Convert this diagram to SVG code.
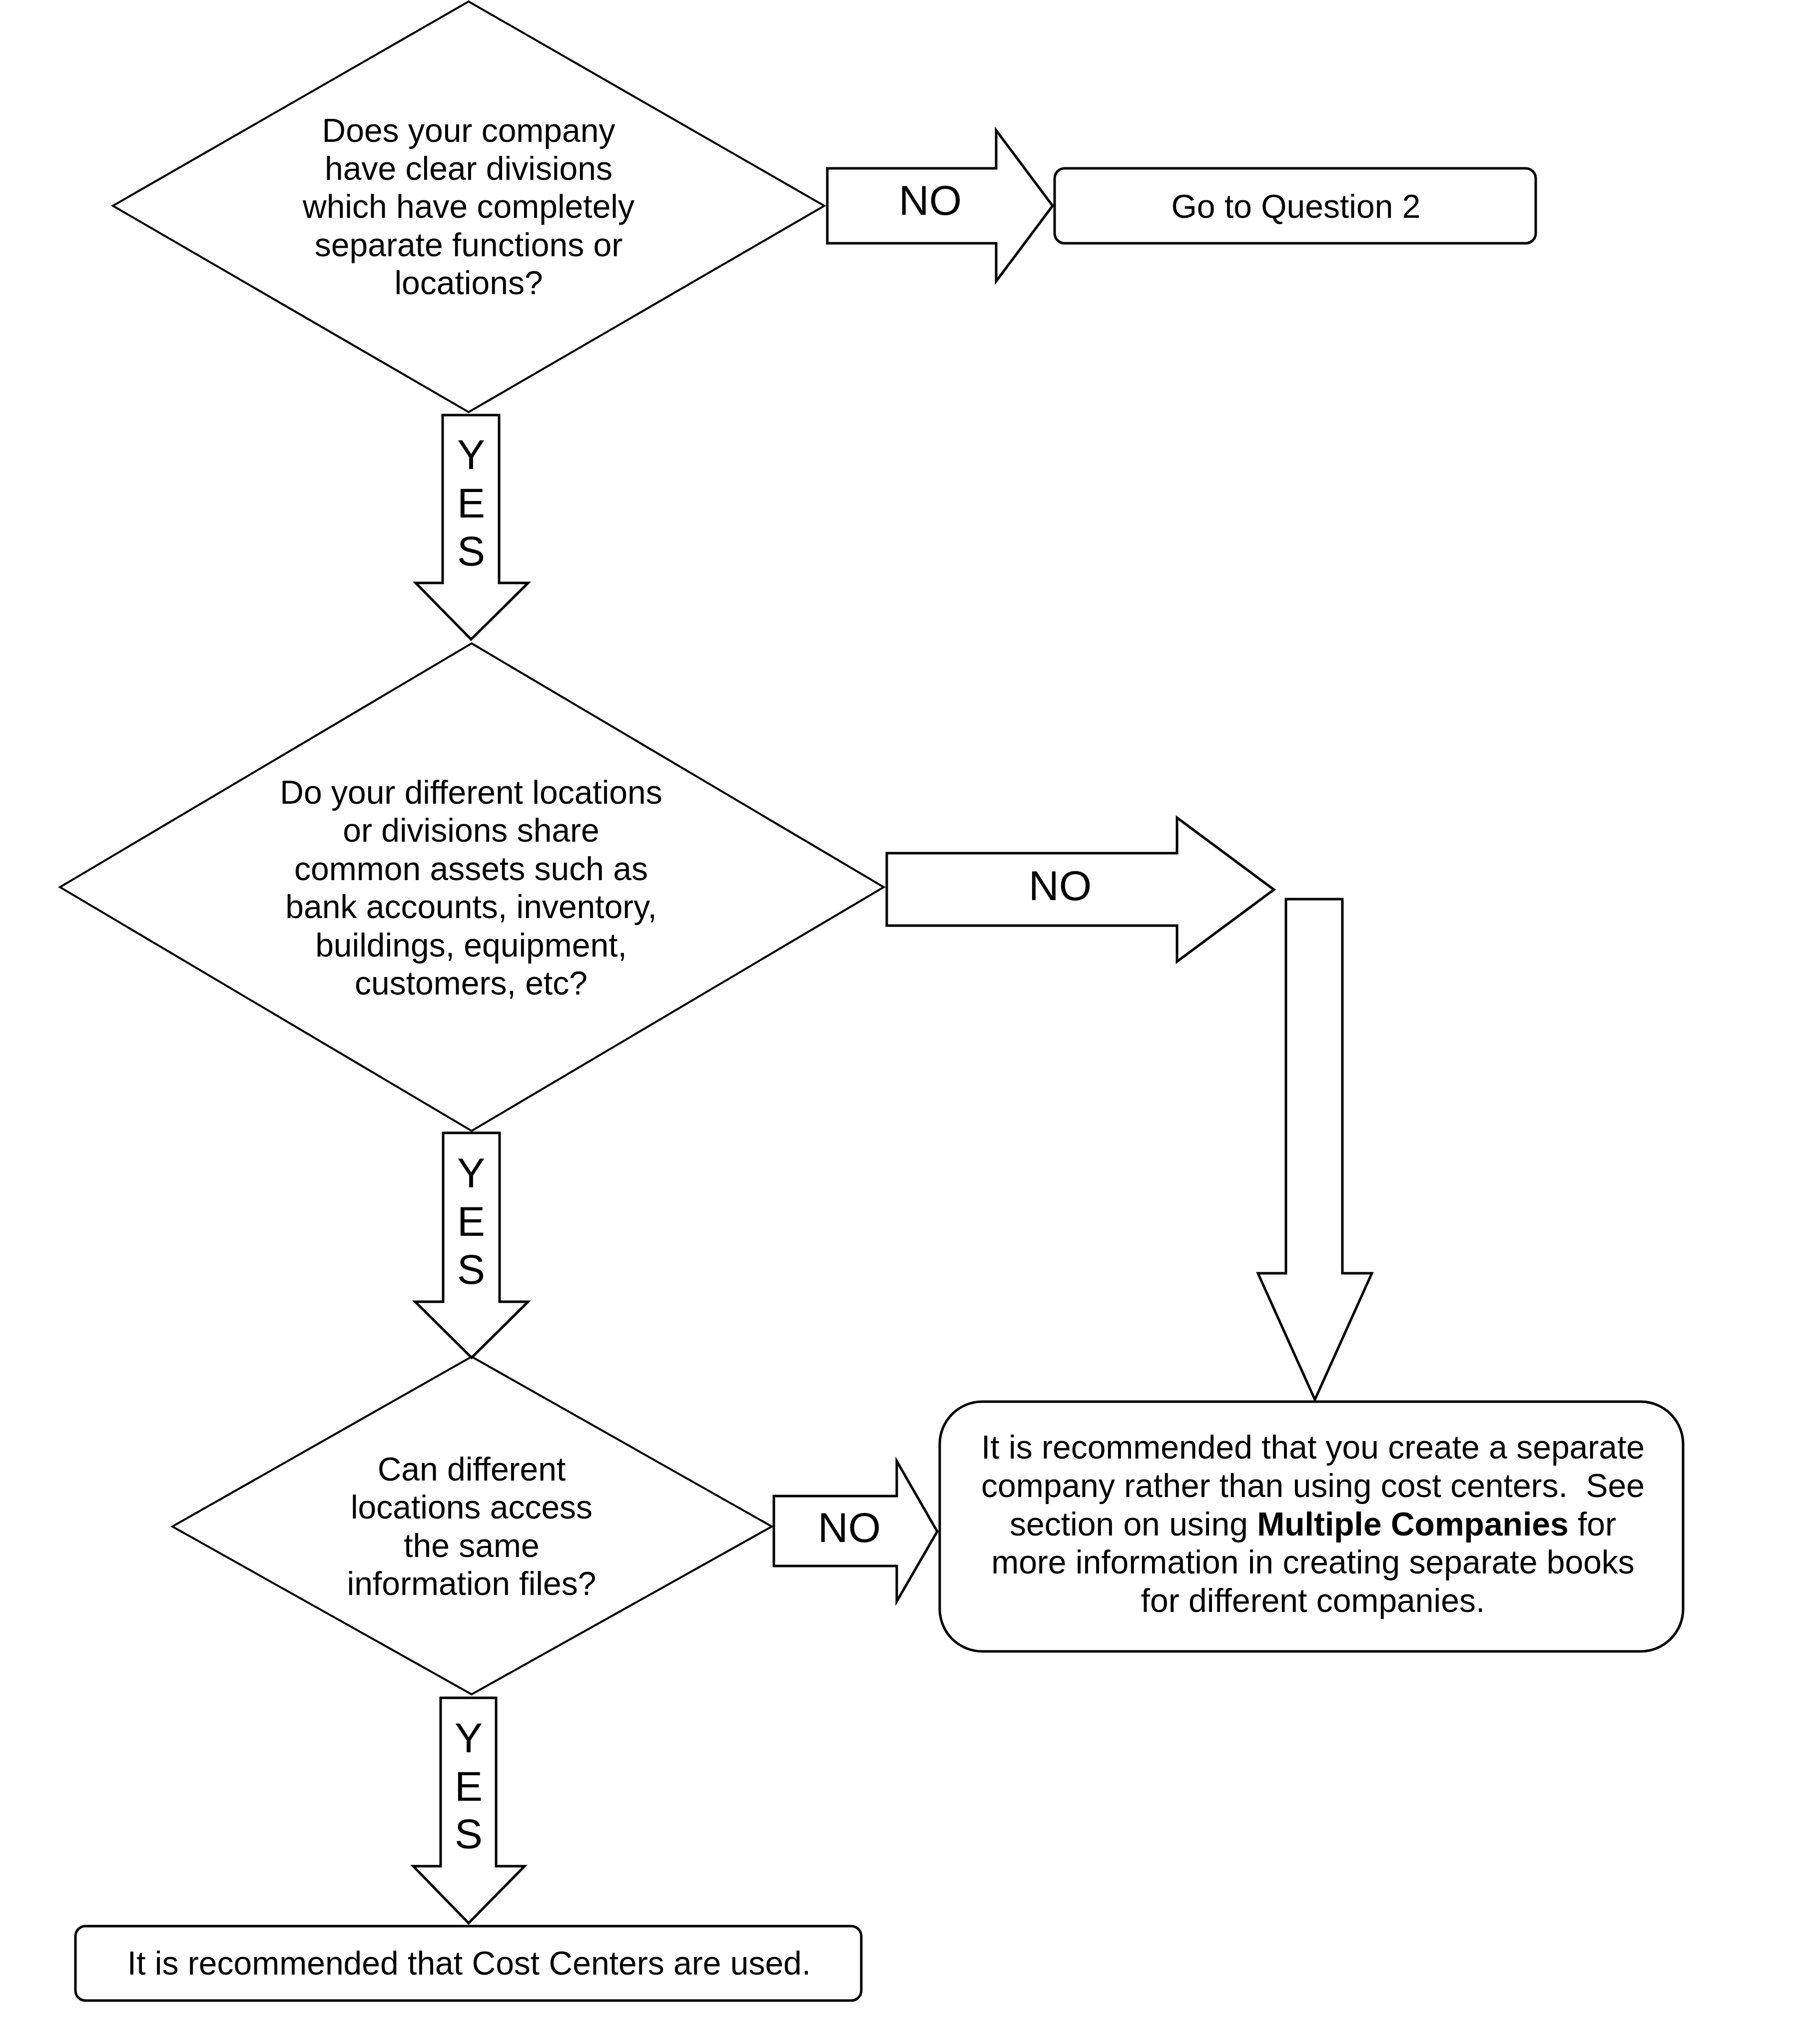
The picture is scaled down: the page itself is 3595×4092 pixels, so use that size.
<svg xmlns="http://www.w3.org/2000/svg" width="3595" height="4092" viewBox="0 0 3595 4092">
<style>
.shape{fill:#fff;stroke:#000;stroke-width:5;stroke-linejoin:miter}
.dia{fill:#fff;stroke:#000;stroke-width:4}
.t{font-family:"Liberation Sans",Arial,sans-serif;font-size:66px;fill:#000;text-anchor:middle}
.lbl{font-family:"Liberation Sans",Arial,sans-serif;font-size:84px;fill:#000;text-anchor:middle}
.b{font-weight:bold}
</style>
<rect width="3595" height="4092" fill="#fff"/>
<g id="q1">
<polygon class="dia" points="938,3 1650,412 938,825 226,412"/>
<text class="t" x="938" y="284">Does your company</text>
<text class="t" x="938" y="360">have clear divisions</text>
<text class="t" x="938" y="436">which have completely</text>
<text class="t" x="938" y="513">separate functions or</text>
<text class="t" x="938" y="589">locations?</text>
</g>
<g id="goto2">
<rect class="shape" x="2111" y="337" width="963" height="150" rx="20" ry="20"/>
<text class="t" x="2594" y="436">Go to Question 2</text>
</g>
<g id="q2">
<polygon class="dia" points="944,1288 1769,1776 944,2264 120,1776"/>
<text class="t" x="943" y="1609">Do your different locations</text>
<text class="t" x="943" y="1685">or divisions share</text>
<text class="t" x="943" y="1762">common assets such as</text>
<text class="t" x="943" y="1838">bank accounts, inventory,</text>
<text class="t" x="943" y="1915">buildings, equipment,</text>
<text class="t" x="943" y="1991">customers, etc?</text>
</g>
<g id="q3">
<polygon class="dia" points="944,2716 1545,3056 944,3392 345,3056"/>
<text class="t" x="944" y="2964">Can different</text>
<text class="t" x="944" y="3040">locations access</text>
<text class="t" x="944" y="3117">the same</text>
<text class="t" x="944" y="3193">information files?</text>
</g>
<g id="separate">
<rect class="shape" x="1881" y="2806" width="1488" height="500" rx="85" ry="85"/>
<text class="t" x="2628" y="2920">It is recommended that you create a separate</text>
<text class="t" x="2628" y="2997" xml:space="preserve">company rather than using cost centers.  See</text>
<text class="t" x="2628" y="3074">section on using <tspan class="b">Multiple Companies</tspan> for</text>
<text class="t" x="2628" y="3150">more information in creating separate books</text>
<text class="t" x="2628" y="3227">for different companies.</text>
</g>
<g id="costcenters">
<rect class="shape" x="151" y="3856" width="1573" height="149" rx="20" ry="20"/>
<text class="t" x="939" y="3953">It is recommended that Cost Centers are used.</text>
</g>
<g id="connectors">
<g id="no1">
<polygon class="shape" points="1656,337 1994,337 1994,261 2107,412 1994,563 1994,487 1656,487"/>
<text class="lbl" x="1862" y="430">NO</text>
</g>
<g id="yes1">
<polygon class="shape" points="886,831 999,831 999,1167 1057,1167 943,1280 832,1167 886,1167"/>
<text class="lbl" x="943" y="939">Y</text>
<text class="lbl" x="943" y="1036">E</text>
<text class="lbl" x="943" y="1132">S</text>
</g>
<g id="no2">
<polygon class="shape" points="1775,1708 2356,1708 2356,1637 2550,1781 2356,1925 2356,1853 1775,1853"/>
<text class="lbl" x="2122" y="1802">NO</text>
</g>
<g id="down">
<polygon class="shape" points="2574,1800 2687,1800 2687,2549 2746,2549 2632,2802 2518,2549 2574,2549"/>
</g>
<g id="yes2">
<polygon class="shape" points="887,2268 1000,2268 1000,2606 1057,2606 944,2718 831,2606 887,2606"/>
<text class="lbl" x="943" y="2377">Y</text>
<text class="lbl" x="943" y="2474">E</text>
<text class="lbl" x="943" y="2570">S</text>
</g>
<g id="no3">
<polygon class="shape" points="1549,2995 1795,2995 1795,2925 1876,3066 1795,3206 1795,3135 1549,3135"/>
<text class="lbl" x="1700" y="3087">NO</text>
</g>
<g id="yes3">
<polygon class="shape" points="882,3399 993,3399 993,3736 1050,3736 938,3850 827,3736 882,3736"/>
<text class="lbl" x="938" y="3508">Y</text>
<text class="lbl" x="938" y="3605">E</text>
<text class="lbl" x="938" y="3700">S</text>
</g>
</g>
</svg>
